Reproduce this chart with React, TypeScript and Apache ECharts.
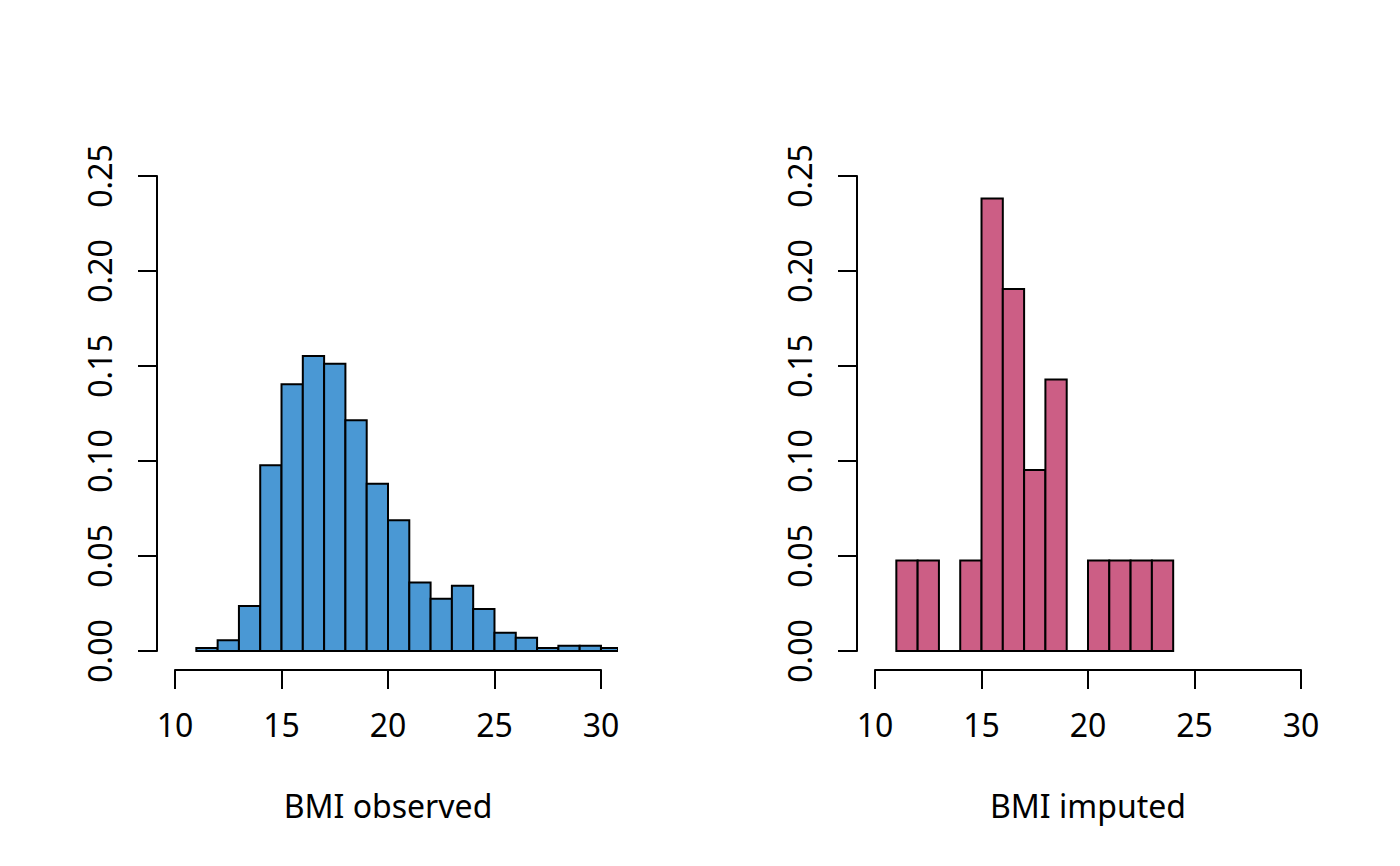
import React, { useEffect, useRef } from "react";
import * as echarts from "echarts";

// Histogram bins (lower edge, upper edge) and densities
const observedStarts = [11, 12, 13, 14, 15, 16, 17, 18, 19, 20, 21, 22, 23, 24, 25, 26, 27, 28, 29, 30];
const observedDensity = [0.0016, 0.0056, 0.0237, 0.0977, 0.1404, 0.1553, 0.1512, 0.1214, 0.088, 0.0688, 0.036, 0.0275, 0.0344, 0.0221, 0.0096, 0.007, 0.0016, 0.0028, 0.0028, 0.0016];

const imputedStarts = [11, 12, 13, 14, 15, 16, 17, 18, 19, 20, 21, 22, 23];
const imputedDensity = [0.0476, 0.0476, 0, 0.0476, 0.2381, 0.1905, 0.0952, 0.1429, 0, 0.0476, 0.0476, 0.0476, 0.0476];

const binWidth = 1;
const xTicks = [10, 15, 20, 25, 30];
const yTicks = [0, 0.05, 0.1, 0.15, 0.2, 0.25];
const titles = ["BMI observed", "BMI imputed"];
const colors = ["#4A98D4", "#CC5E85"];

const FONT = "'Noto Sans', 'Open Sans', sans-serif";
const FS = 32;

export default function App() {
  const ref = useRef<HTMLDivElement>(null);
  useEffect(() => {
    if (!ref.current) return;
    const chart = echarts.init(ref.current, null, { renderer: "svg" });

    const panels = [
      { starts: observedStarts, dens: observedDensity, left: 158, color: colors[0], title: titles[0] },
      { starts: imputedStarts, dens: imputedDensity, left: 858, color: colors[1], title: titles[1] },
    ];

    const grid: any[] = [];
    const xAxis: any[] = [];
    const yAxis: any[] = [];
    const series: any[] = [];
    const graphic: any[] = [];

    panels.forEach((p, i) => {
      // plot region grid (R's usr region with 4% extension)
      grid.push({ left: p.left, top: 157, width: 460, height: 513 });
      xAxis.push({ gridIndex: i * 2, type: "value", min: 9.2, max: 30.8, show: false });
      yAxis.push({ gridIndex: i * 2, type: "value", min: -0.01, max: 0.26, show: false });
      // axes grid (data range 10..30 and 0..0.25)
      grid.push({ left: p.left + 17, top: 176, width: 426, height: 475 });
      xAxis.push({
        gridIndex: i * 2 + 1,
        type: "value",
        min: 10,
        max: 30,
        interval: 5,
        position: "bottom",
        offset: 19,
        splitLine: { show: false },
        axisLine: { show: true, onZero: false, lineStyle: { color: "#000", width: 2 } },
        axisTick: { show: true, length: 19, lineStyle: { color: "#000", width: 2 } },
        axisLabel: {
          show: true,
          color: "#000",
          fontFamily: FONT,
          fontSize: FS,
          margin: 38,
          formatter: (v: number) => (xTicks.includes(v) ? String(v) : ""),
        },
      });
      yAxis.push({
        gridIndex: i * 2 + 1,
        type: "value",
        min: 0,
        max: 0.25,
        interval: 0.05,
        position: "left",
        offset: 18,
        splitLine: { show: false },
        axisLine: { show: true, onZero: false, lineStyle: { color: "#000", width: 2 } },
        axisTick: { show: true, length: 19, lineStyle: { color: "#000", width: 2 } },
        axisLabel: {
          show: true,
          rotate: 90,
          color: "#000",
          fontFamily: FONT,
          fontSize: FS,
          margin: 42,
          formatter: (v: number) => {
            const t = yTicks.find((y) => Math.abs(y - v) < 1e-9);
            return t === undefined ? "" : t.toFixed(2);
          },
        },
      });

      const data = p.starts.map((s, k) => [s, s + binWidth, p.dens[k]]);
      series.push({
        type: "custom",
        xAxisIndex: i * 2,
        yAxisIndex: i * 2,
        clip: true,
        data,
        renderItem: (params: any, api: any) => {
          const s = api.value(0);
          const e = api.value(1);
          const d = api.value(2);
          const p0 = api.coord([s, d]);
          const p1 = api.coord([e, 0]);
          const cs = params.coordSys;
          const x0 = Math.max(p0[0], cs.x);
          const x1 = Math.min(p1[0], cs.x + cs.width);
          if (x1 <= x0) return null;
          return {
            type: "rect",
            shape: { x: x0, y: p0[1], width: x1 - x0, height: p1[1] - p0[1] },
            style: { fill: p.color, stroke: "#000", lineWidth: 2 },
          };
        },
      });

      graphic.push({
        type: "text",
        x: p.left + 17 + 213,
        y: 805,
        style: {
          text: p.title,
          fontFamily: FONT,
          fontSize: FS,
          fill: "#000",
          textAlign: "center",
          textVerticalAlign: "middle",
        },
      });
    });

    chart.setOption({
      animation: false,
      backgroundColor: "#fff",
      grid,
      xAxis,
      yAxis,
      series,
      graphic,
    });
    return () => chart.dispose();
  }, []);

  return (
    <div
      ref={ref}
      style={{ position: "fixed", left: 0, top: 0, width: 1400, height: 866, background: "#fff" }}
    />
  );
}
